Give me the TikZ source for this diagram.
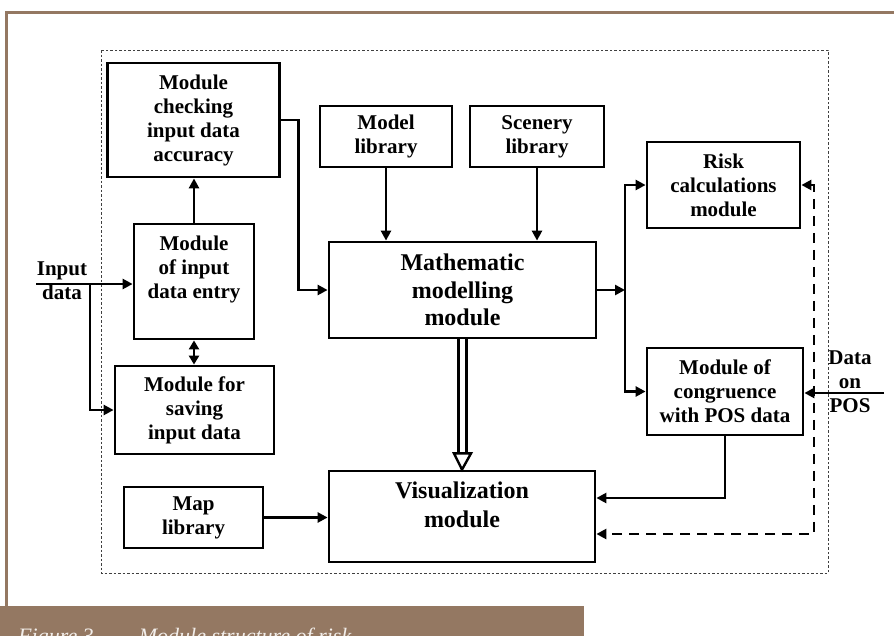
\documentclass[tikz,border=0pt]{standalone}
\usepackage{fontspec}
\setmainfont{Liberation Serif}
\usetikzlibrary{arrows.meta,calc}
\definecolor{frame}{HTML}{947862}
\definecolor{captxt}{HTML}{F2EEEA}
\tikzset{
  box/.style={draw, line width=2.8pt, align=center, inner sep=0pt,
    font=\fontsize{21}{24}\selectfont\bfseries},
  bigbox/.style={box, font=\fontsize{24}{27.5}\selectfont\bfseries},
  txt/.style={align=center, inner sep=0pt, font=\fontsize{21}{24}\selectfont\bfseries},
  bigtxt/.style={txt, font=\fontsize{24}{28.5}\selectfont\bfseries},
  arr/.style={line width=2.6pt, -{Triangle[length=10pt,width=10pt]}},
  darr/.style={line width=2.6pt, dash pattern=on 10pt off 7pt,
    {Triangle[length=10pt,width=10pt]}-{Triangle[length=10pt,width=10pt]}},
  outer/.style={draw=black!75, line width=0.8pt, dash pattern=on 2.5pt off 2pt},
}
\begin{document}
\begin{tikzpicture}[x=1pt,y=-1pt]
\useasboundingbox (0,0) rectangle (894,635);
\clip (0,0) rectangle (894,635);
% page frame and caption bar
\draw[frame, line width=3pt] (6,606) -- (6,12) -- (896,12);
\fill[frame] (0,606) rectangle (584,640);
\node[anchor=base west, inner sep=0pt, text=captxt,
  font=\fontsize{22}{26}\selectfont\itshape] (cap) at (18,643)
  {Figure 3.\hspace{1.8em}Module structure of risk};
% outer dashed frame
\draw[outer] (101,50) rectangle (828,573);
% boxes
\node[box, minimum width=172, minimum height=114] (chk) at (193.5,120)
  {Module\\checking\\input data\\accuracy};
\node[box, minimum width=120, minimum height=115] (entry) at (194,281.5) {};
\node[txt] (entryT) at (194,269) {Module\\of input\\data entry};
\node[box, minimum width=159, minimum height=88] (saving) at (194.5,410)
  {Module for\\saving\\input data};
\node[box, minimum width=132, minimum height=61] (model) at (386,136.5)
  {Model\\library};
\node[box, minimum width=134, minimum height=61] (scen) at (537,136.5)
  {Scenery\\library};
\node[bigbox, minimum width=267, minimum height=96] (math) at (462.5,290)
  {Mathematic\\modelling\\module};
\node[box, minimum width=153, minimum height=86] (risk) at (723.5,185)
  {Risk\\calculations\\module};
\node[box, minimum width=156, minimum height=87] (cong) at (725,391.5)
  {Module of\\congruence\\with POS data};
\node[box, minimum width=139, minimum height=61] (map) at (193.5,517.5)
  {Map\\library};
\node[bigbox, minimum width=266, minimum height=91] (vis) at (462,516.5) {};
\node[bigtxt] (visT) at (462,505) {Visualization\\module};
% outside labels
\node[txt] (inlab) at (62,281) {Input\\data};
\node[txt] (poslab) at (850,382) {Data\\on\\POS};
% coordinates
\coordinate (inL) at (36,284);
\coordinate (br) at (90,284);
\coordinate (sp) at (625,290);
\coordinate (dq) at (814,534);
\coordinate (posR) at (884,393);
% connectors
\draw[arr] (inL) -- (entry.west |- inL);
\draw[line width=2.6pt] (br) |- ($(saving.west)+(-14,0)$);
\draw[arr] ($(saving.west)+(-15,0)$) -- (saving.west);
\draw[arr] (entry.north) -- (entry.north |- chk.south);
\draw[line width=2.6pt, {Triangle[length=9pt,width=10pt]}-{Triangle[length=9pt,width=10pt]}] (entry.south) -- (entry.south |- saving.north);
\draw[arr] (chk.east) -| ($(math.west)+(-29,0)$) -- (math.west);
\draw[arr] (model.south) -- (model.south |- math.north);
\draw[arr] (scen.south) -- (scen.south |- math.north);
\draw[arr] (math.east) -- (sp);
\draw[arr] (sp) |- (risk.west);
\draw[arr] (sp) |- (cong.west);
\draw[arr] (map.east) -- (map.east -| vis.west);
\draw[arr] (cong.south) |- ($(vis.east)+(0,-18.5)$);
\draw[darr] (risk.east) -- (risk.east -| dq) -- (dq) -- (vis.east |- dq);
\draw[arr] (posR) -- (cong.east |- posR);
% hollow double arrow math -> vis
\draw[line width=2.4pt] ($(math.south)+(-4,0)$) -- ($(math.south)+(-4,114)$);
\draw[line width=2.4pt] ($(math.south)+(4,0)$) -- ($(math.south)+(4,114)$);
\draw[line width=2.4pt, fill=white, line join=miter]
  ($(math.south)+(-8.5,114)$) -- ($(math.south)+(8.5,114)$) -- (vis.north) -- cycle;
\end{tikzpicture}
\end{document}
